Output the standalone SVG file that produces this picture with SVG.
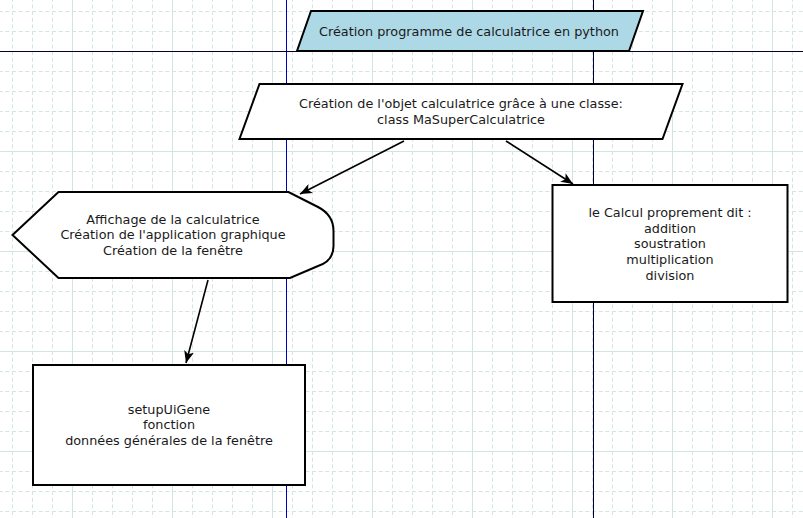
<svg xmlns="http://www.w3.org/2000/svg" width="803" height="518" viewBox="0 0 803 518">
  <style>
    .node { stroke: #000; stroke-width: 2; }
    .plain { fill: #fff; }
    .title { fill: #add8e6; }
    .lbl { font-family: "DejaVu Sans", sans-serif; font-size: 12.8px; fill: #1a1a1a; text-anchor: middle; }
    .conn { stroke: #000; stroke-width: 1.6; fill: none; marker-end: url(#arrow); }
    .gd { stroke: #d3e5e3; stroke-width: 1; stroke-dasharray: 4 2.67; fill: none; }
    .gs { stroke: #d3e5e3; stroke-width: 1; fill: none; }
  </style>
  <defs>
    <pattern id="grid" x="72" y="51" width="100" height="100" patternUnits="userSpaceOnUse">
      <path class="gd" d="M20.5 0V100M40.5 0V100M60.5 0V100M80.5 0V100M0 20.5H100M0 40.5H100M0 60.5H100M0 80.5H100"/>
      <path class="gs" d="M0.5 0V100M0 0.5H100"/>
    </pattern>
    <marker id="arrow" viewBox="0 0 12 10" markerWidth="12" markerHeight="10" refX="12" refY="5" orient="auto" markerUnits="userSpaceOnUse">
      <path d="M0,0 L12,5 L0,10 L3,5 Z" fill="#000"/>
    </marker>
  </defs>

  <rect width="803" height="518" fill="#fff"/>
  <rect width="803" height="518" fill="url(#grid)"/>

  <g id="guides">
    <line x1="286.5" y1="0" x2="286.5" y2="518" stroke="#0000c0" stroke-width="1"/>
    <line x1="593.5" y1="0" x2="593.5" y2="518" stroke="#000030" stroke-width="1"/>
    <line x1="0" y1="51.5" x2="803" y2="51.5" stroke="#000030" stroke-width="1"/>
  </g>

  <g id="connectors">
    <line class="conn" x1="404" y1="141" x2="300" y2="194"/>
    <line class="conn" x1="506" y1="141" x2="573" y2="184"/>
    <line class="conn" x1="208" y1="280" x2="186" y2="363"/>
  </g>

  <g id="n1">
    <polygon class="node title" points="311,11 643,11 629,51 297,51"/>
    <text class="lbl" x="469" y="36">Création programme de calculatrice en python</text>
  </g>

  <g id="n2">
    <polygon class="node plain" points="259.5,84 682.5,84 662.5,139 239.5,139"/>
    <text class="lbl" x="461" y="107.5">Création de l'objet calculatrice grâce à une classe:</text>
    <text class="lbl" x="461" y="123.5">class MaSuperCalculatrice</text>
  </g>

  <g id="n3">
    <path class="node plain" d="M12.5,235 L58.5,192 L288.5,192 L318,207 Q333.5,215 333.5,231 L333.5,246 Q333.5,261 318,266 L290,278 L58.5,278 Z"/>
    <text class="lbl" x="173" y="223.5">Affichage de la calculatrice</text>
    <text class="lbl" x="173" y="239">Création de l'application graphique</text>
    <text class="lbl" x="173" y="254.5">Création de la fenêtre</text>
  </g>

  <g id="n4">
    <rect class="node plain" x="552.5" y="185" width="235" height="117"/>
    <text class="lbl" x="670" y="217">le Calcul proprement dit :</text>
    <text class="lbl" x="670" y="232.5">addition</text>
    <text class="lbl" x="670" y="248">soustration</text>
    <text class="lbl" x="670" y="263.5">multiplication</text>
    <text class="lbl" x="670" y="279.5">division</text>
  </g>

  <g id="n5">
    <rect class="node plain" x="33" y="365" width="272" height="120"/>
    <text class="lbl" x="169" y="413.5">setupUiGene</text>
    <text class="lbl" x="169" y="428.5">fonction</text>
    <text class="lbl" x="169" y="444.5">données générales de la fenêtre</text>
  </g>
</svg>
